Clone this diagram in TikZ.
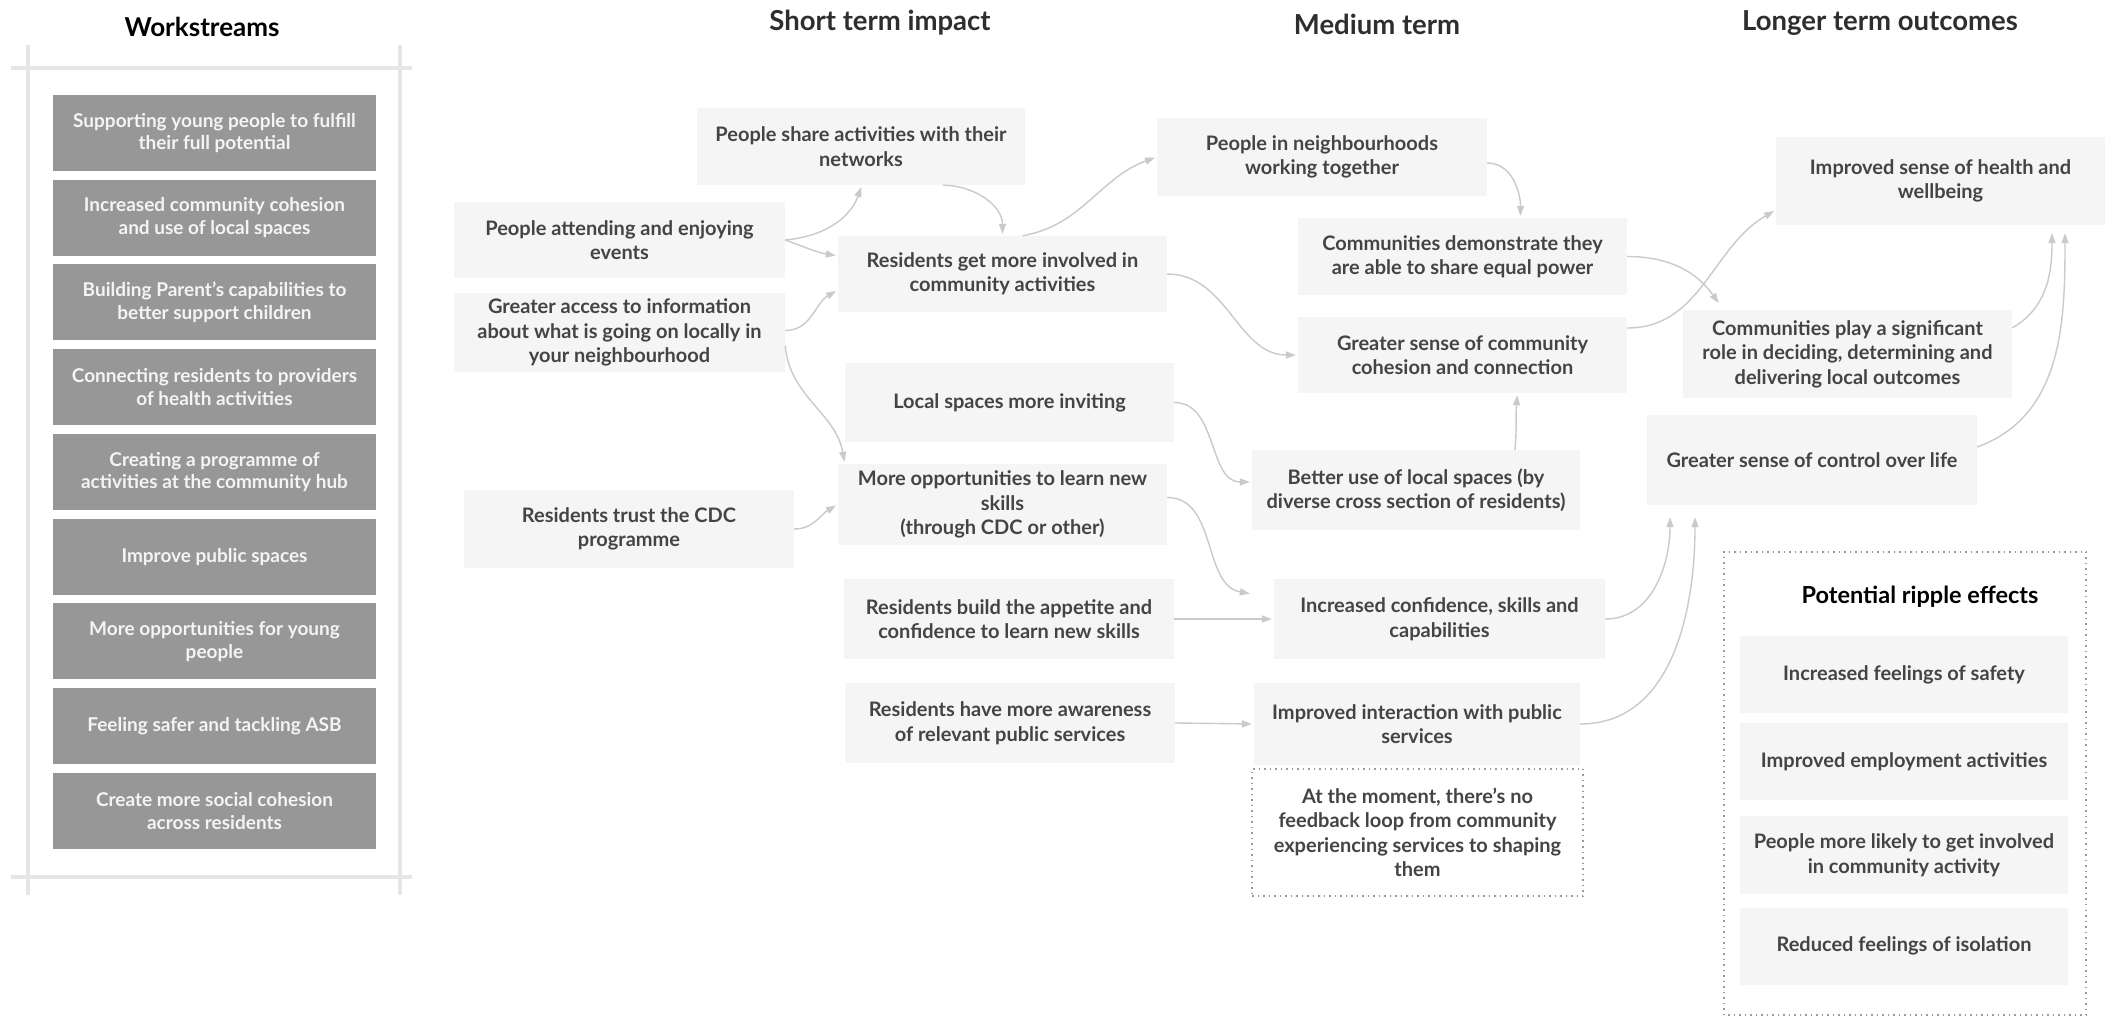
\documentclass[tikz,border=0pt]{standalone}
\usepackage{fontspec}
\setsansfont{Lato}
\usetikzlibrary{arrows.meta}
\definecolor{boxfill}{HTML}{F5F5F5}
\definecolor{boxtext}{HTML}{444444}
\definecolor{wsfill}{HTML}{979797}
\definecolor{wstext}{HTML}{F4F4F4}
\definecolor{framegray}{HTML}{E6E6E6}
\definecolor{arrowgray}{HTML}{CACACA}
\definecolor{dotgray}{HTML}{9A9A9A}
\newcommand{\outfont}{\sffamily\bfseries\fontsize{20}{24.5}\selectfont}
\newcommand{\wsfont}{\sffamily\bfseries\fontsize{19}{22.5}\selectfont}
\newcommand{\headfont}{\sffamily\bfseries\fontsize{27.5}{30}\selectfont}
\newcommand{\ripplefont}{\sffamily\bfseries\fontsize{23.5}{26}\selectfont}
\tikzset{
 box/.style={fill=boxfill, text=boxtext, font=\outfont, align=center, inner sep=0pt, minimum width=329pt, minimum height=78pt},
 wsbox/.style={fill=wsfill, text=wstext, font=\wsfont, align=center, inner sep=0pt, minimum width=323pt, minimum height=76pt},
 notebox/.style={draw=dotgray, line width=1.3pt, dash pattern=on 1.5pt off 4pt, text=boxtext, font=\outfont, align=center, inner sep=0pt, minimum width=331pt, minimum height=127pt},
 head/.style={font=\headfont, text=black!82},
 frame/.style={framegray, line width=3.5pt},
 link/.style={arrowgray, line width=1.4pt, ->, >={Triangle[length=10pt,width=7pt]}, shorten >=2pt}
}
\begin{document}
\begin{tikzpicture}[x=1pt, y=1pt]
\useasboundingbox (0,0) rectangle (2110,1018);
\fill[white] (0,0) rectangle (2110,1018);

\node[head, text=black, font=\sffamily\bfseries\fontsize{26}{30}\selectfont] (hws) at (202,991) {Workstreams};
\node[head] (hshort) at (880,995) {Short term impact};
\node[head] (hmed) at (1377,994) {Medium term};
\node[head] (hlong) at (1880,995) {Longer term outcomes};

\draw[frame] (11,950) -- (412,950);
\draw[frame] (11,141) -- (412,141);
\draw[frame] (28,973) -- (28,123);
\draw[frame] (400,973) -- (400,123);

\foreach \txt [count=\i] in {{Supporting young people to fulfill\\their full potential},
 {Increased community cohesion\\and use of local spaces},
 {Building Parent’s capabilities to\\better support children},
 {Connecting residents to providers\\of health activities},
 {Creating a programme of\\activities at the community hub},
 {Improve public spaces},
 {More opportunities for young\\people},
 {Feeling safer and tackling ASB},
 {Create more social cohesion\\across residents}} {
 \node[wsbox] (ws\i) at (214.5,{885-84.75*(\i-1)}) {\txt};
}

\node[box, minimum width=328pt, minimum height=77pt] (share) at (861,871.5) {People share activities with their\\networks};
\node[box, minimum width=331pt, minimum height=76pt] (attend) at (619.5,778) {People attending and enjoying\\events};
\node[box, minimum width=331pt, minimum height=79pt] (access) at (619.5,685.5) {Greater access to information\\about what is going on locally in\\your neighbourhood};
\node[box, minimum width=330pt] (trust) at (629,489) {Residents trust the CDC\\programme};
\node[box, minimum height=76pt] (involved) at (1002.5,744) {Residents get more involved in\\community activities};
\node[box, minimum height=79pt] (localsp) at (1009.5,615.5) {Local spaces more inviting};
\node[box, minimum height=81pt] (moreopp) at (1002.5,513.5) {More opportunities to learn new\\skills\\(through CDC or other)};
\node[box, minimum width=330pt, minimum height=80pt] (build) at (1009,399) {Residents build the appetite and\\confidence to learn new skills};
\node[box, minimum width=330pt, minimum height=80pt] (aware) at (1010,295) {Residents have more awareness\\of relevant public services};

\node[box, minimum width=330pt] (neighb) at (1322,861) {People in neighbourhoods\\working together};
\node[box, minimum height=77pt] (demo) at (1462.5,761.5) {Communities demonstrate they\\are able to share equal power};
\node[box, minimum height=76pt] (sense) at (1462.5,663) {Greater sense of community\\cohesion and connection};
\node[box, minimum width=328pt, minimum height=80pt] (betteruse) at (1416,528) {Better use of local spaces (by\\diverse cross section of residents)};
\node[box, minimum width=331pt, minimum height=80pt] (confid) at (1439.5,399) {Increased confidence, skills and\\capabilities};
\node[box, minimum width=326pt, minimum height=82pt] (interact) at (1417,294) {Improved interaction with public\\services};
\node[notebox] (feedback) at (1417.5,185.5) {At the moment, there’s no\\feedback loop from community\\experiencing services to shaping\\them};

\node[box, minimum height=88pt] (health) at (1940.5,837) {Improved sense of health and\\wellbeing};
\node[box, minimum height=88pt] (play) at (1847.5,664) {Communities play a significant\\role in deciding, determining and\\delivering local outcomes};
\node[box, minimum width=330pt, minimum height=90pt] (control) at (1812,558) {Greater sense of control over life};

\draw[draw=dotgray, line width=1.3pt, dash pattern=on 1.5pt off 4pt] (1724,3) rectangle (2086,466);
\node[font=\ripplefont, text=black] (rtitle) at (1920,421) {Potential ripple effects};
\foreach \y/\txt [count=\i] in {343.5/{Increased feelings of safety},
 256/{Improved employment activities},
 163/{People more likely to get involved\\in community activity},
 72/{Reduced feelings of isolation}} {
 \node[box, minimum width=328pt, minimum height=77pt] (ripple\i) at (1904,\y) {\txt};
}

\draw[link] (attend.east) to[out=5, in=-110] ([xshift=1pt]share.south);
\draw[link] (attend.east) to[out=-20, in=170] ([yshift=18pt]involved.west);
\draw[link] ([yshift=2pt]access.east) to[out=0, in=210] ([yshift=-16pt]involved.west);
\draw[link] ([yshift=-13pt]access.east) to[out=-85, in=100] ([xshift=7pt]moreopp.north west);
\draw[link] (trust.east) to[out=0, in=210] (moreopp.west);
\draw[link] ([xshift=82pt]share.south) to[out=0, in=90] ([xshift=0pt]involved.north);
\draw[link] ([xshift=20pt]involved.north) to[out=10, in=200] (neighb.west);
\draw[link] (involved.east) to[out=0, in=180] (sense.west);
\draw[link] (localsp.east) to[out=0, in=180] ([yshift=8pt]betteruse.west);
\draw[link] ([yshift=7pt]moreopp.east) to[out=0, in=170] ([xshift=-22pt, yshift=25pt]confid.west);
\draw[link] (build.east) -- (confid.west);
\draw[link] (aware.east) -- (interact.west);
\draw[link] ([xshift=99pt]betteruse.north) to[out=85, in=-95] ([xshift=55pt]sense.south);
\draw[link] ([yshift=-6pt]neighb.east) to[out=0, in=90] ([xshift=58pt]demo.north);
\draw[link] (demo.east) to[out=0, in=125] ([xshift=37pt, yshift=5pt]play.north west);
\draw[link] ([yshift=27pt]sense.east) to[out=0, in=210] ([yshift=-29pt]health.west);
\draw[link] ([yshift=26pt]play.east) to[out=30, in=-90] ([xshift=111.5pt, yshift=-6pt]health.south);
\draw[link] ([yshift=13pt]control.east) to[out=20, in=-90] ([xshift=124.5pt, yshift=-6pt]health.south);
\draw[link] (confid.east) to[out=0, in=-90] ([xshift=-142pt, yshift=-10pt]control.south);
\draw[link] (interact.east) to[out=0, in=-90] ([xshift=-117pt, yshift=-10pt]control.south);
\end{tikzpicture}
\end{document}
